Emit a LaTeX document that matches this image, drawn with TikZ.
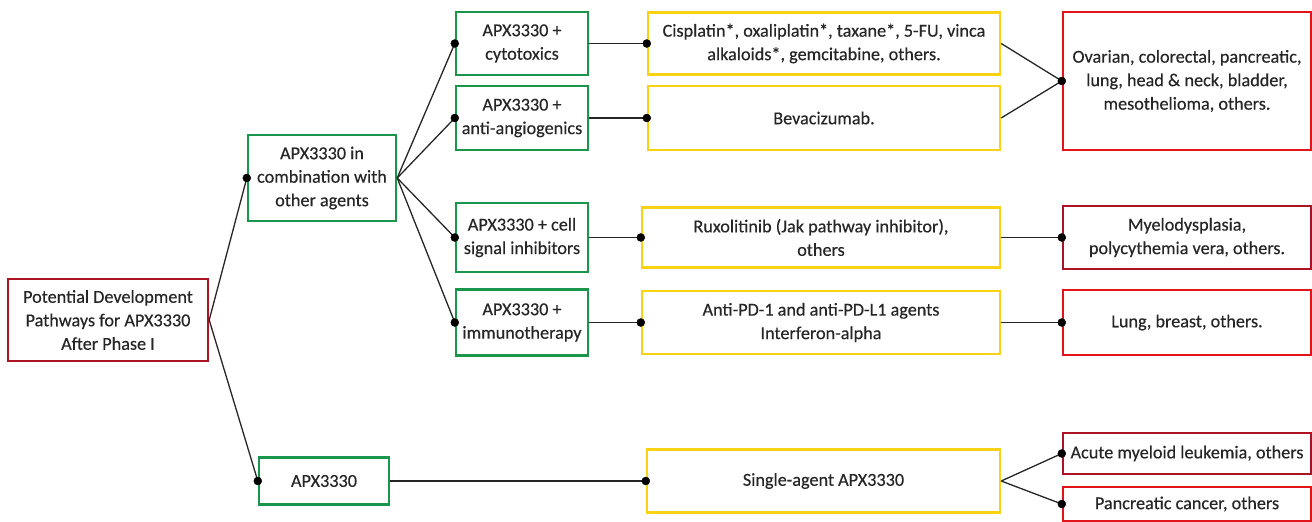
\documentclass[tikz,border=0pt]{standalone}
\usepackage{fontspec}
\setmainfont{Carlito}
\newfontfamily\boxfont{Carlito}[FakeBold=0.4]
\usepackage{tikz}
\usetikzlibrary{positioning}
\definecolor{boxgreen}{RGB}{25,150,75}
\definecolor{boxyellow}{RGB}{250,210,20}
\definecolor{boxred}{RGB}{225,20,25}
\definecolor{boxdarkred}{RGB}{170,20,35}
\tikzset{
  box/.style={draw, line width=2.4pt, align=center, inner sep=2pt,
    font=\boxfont\fontsize{18.2}{23.5}\selectfont, text=black!85},
  greenbox/.style={box, draw=boxgreen},
  yellowbox/.style={box, draw=boxyellow},
  redbox/.style={box, draw=boxred},
  darkredbox/.style={box, draw=boxdarkred},
  link/.style={line width=1.3pt, black!85}
}

\begin{document}
\begin{tikzpicture}[x=1pt, y=-1pt]
\useasboundingbox (0,0) rectangle (1312,522);

% first column
\node[darkredbox, minimum width=200pt, minimum height=82pt] (root) at (108,320) {Potential Development\\Pathways for APX3330\\After Phase I};

% second column
\node[greenbox, minimum width=148pt, minimum height=86pt] (combo) at (322,178) {APX3330 in\\combination with\\other agents};
\node[greenbox, minimum width=130pt, minimum height=47pt] (single) at (324,481) {APX3330};

% third column
\node[greenbox, minimum width=132pt, minimum height=63pt] (cyto) at (522,43.5) {APX3330 +\\cytotoxics};
\node[greenbox, minimum width=132pt, minimum height=64pt] (angio) at (522,118) {APX3330 +\\anti-angiogenics};
\node[greenbox, minimum width=132pt, minimum height=69pt] (signal) at (522,237.5) {APX3330 + cell\\signal inhibitors};
\node[greenbox, minimum width=132pt, minimum height=66pt] (immuno) at (522,322.5) {APX3330 +\\immunotherapy};

% drugs
\node[yellowbox, minimum width=352pt, minimum height=62pt] (cispl) at (824,43.5) {Cisplatin*, oxaliplatin*, taxane*, 5-FU, vinca\\alkaloids*, gemcitabine, others.};
\node[yellowbox, minimum width=352pt, minimum height=64pt] (bevac) at (824,118) {Bevacizumab.};
\node[yellowbox, minimum width=358pt, minimum height=60pt] (ruxol) at (821,237.5) {Ruxolitinib (Jak pathway inhibitor),\\others};
\node[yellowbox, minimum width=358pt, minimum height=63pt] (antipd) at (821,322.5) {Anti-PD-1 and anti-PD-L1 agents\\Interferon-alpha};
\node[yellowbox, minimum width=353pt, minimum height=63pt] (agent) at (823.5,481) {Single-agent APX3330};

% indications
\node[redbox, minimum width=248pt, minimum height=138pt] (ovarian) at (1187,81) {Ovarian, colorectal, pancreatic,\\lung, head \& neck, bladder,\\mesothelioma, others.};
\node[darkredbox, minimum width=248pt, minimum height=63pt] (myelo) at (1187,237.5) {Myelodysplasia,\\polycythemia vera, others.};
\node[redbox, minimum width=248pt, minimum height=65pt] (lung) at (1187,322.5) {Lung, breast, others.};
\node[darkredbox, minimum width=248pt, minimum height=41pt] (acute) at (1187,453.5) {Acute myeloid leukemia, others};
\node[redbox, minimum width=248pt, minimum height=34pt] (pancr) at (1187,504) {Pancreatic cancer, others};

% connectors
\draw[link] (root.east)--(combo.west);
\draw[link] (root.east)--(single.west);
\draw[link] (combo.east)--(cyto.west);
\draw[link] (combo.east)--(angio.west);
\draw[link] (combo.east)--(signal.west);
\draw[link] (combo.east)--(immuno.west);
\draw[link] (cyto.east)--(cispl.west);
\draw[link] (angio.east)--(bevac.west);
\draw[link] (signal.east)--(ruxol.west);
\draw[link] (immuno.east)--(antipd.west);
\draw[link] (single.east)--(agent.west);
\draw[link] (cispl.east)--(ovarian.west);
\draw[link] (bevac.east)--(ovarian.west);
\draw[link] (ruxol.east)--(myelo.west);
\draw[link] (antipd.east)--(lung.west);
\draw[link] (agent.east)--(acute.west);
\draw[link] (agent.east)--(pancr.west);

\foreach \n in {combo,single,cyto,angio,signal,immuno,cispl,bevac,ruxol,antipd,agent,ovarian,myelo,lung,acute,pancr}
  \filldraw (\n.west) circle(4pt);
\end{tikzpicture}
\end{document}
